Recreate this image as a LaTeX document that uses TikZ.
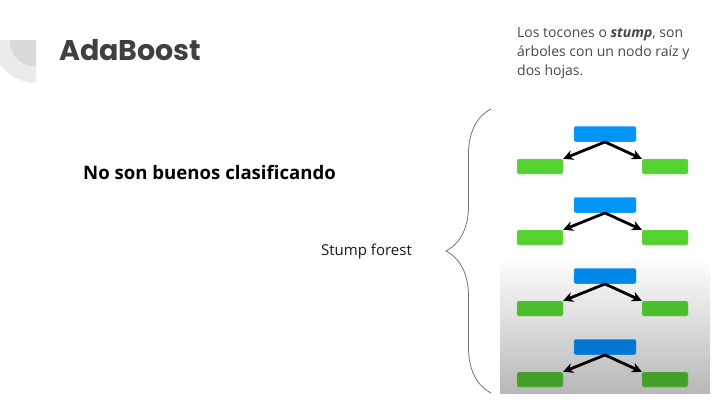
\documentclass[tikz,border=0pt]{standalone}
\usepackage{fontspec}
\setmainfont{Open Sans}
\newfontfamily\titlefont{Poppins}
\usetikzlibrary{arrows.meta, positioning, decorations.pathreplacing}

\definecolor{rootblue}{HTML}{0095FA}
\definecolor{rootblueB}{HTML}{0088E8}
\definecolor{rootblueC}{HTML}{0078D2}
\definecolor{leafgreen}{HTML}{55D132}
\definecolor{leafgreenB}{HTML}{4CBE2E}
\definecolor{leafgreenC}{HTML}{42A02A}

\begin{document}
\begin{tikzpicture}[
    x=1pt, y=-1pt,
    >={Stealth[length=10pt, width=10pt]},
    on grid,
    root/.style={rectangle, rounded corners=1.5pt, fill=#1, draw=#1!70!white, line width=0.4pt,
                 minimum width=62pt, minimum height=15.5pt, inner sep=0pt},
    leaf/.style={rectangle, rounded corners=1.5pt, fill=#1, draw=#1!70!white, line width=0.4pt,
                 minimum width=46pt, minimum height=15pt, inner sep=0pt},
    link/.style={->, line width=2.8pt, black},
]

    \useasboundingbox (0,0) rectangle (728,405);

    % corner mark
    \fill[black!8]  (36,40) -- (36,83) arc[start angle=90, end angle=180, radius=43] -- cycle;
    \fill[black!15] (36,40) -- (36,66.5) arc[start angle=90, end angle=180, radius=26.5] -- cycle;

    \node[anchor=base west, inner sep=0pt, text=black!75, font=\titlefont\bfseries\fontsize{28.5}{32}\selectfont] (T) at (59,60) {AdaBoost};

    \node[anchor=north west, inner sep=0pt, align=left, text=black!72, font=\fontsize{14}{19}\selectfont] (N) at (517,27)
        {Los tocones o \textbf{\textit{stump}}, son\\árboles con un nodo raíz y\\dos hojas.};

    \node[anchor=west, inner sep=0pt, font=\bfseries\fontsize{18.6}{22}\selectfont] (C) at (83,172) {No son buenos clasificando};

    \node[anchor=west, inner sep=0pt, text=black!90, font=\fontsize{15}{18}\selectfont] (F) at (321,252) {Stump forest};

    \draw[black!55, line width=0.8pt, decorate, decoration={brace, amplitude=45pt, aspect=0.5}] (491,393) -- (491,109);

    \shade[top color=white, bottom color=black!28] (500,257) rectangle (710,393);

    \node[root=rootblue]  (R1) at (605,134) {};
    \node[root=rootblue]  (R2) at (605,205) {};
    \node[root=rootblueB] (R3) at (605,276) {};
    \node[root=rootblueC] (R4) at (605,347) {};

    \node[leaf=leafgreen,  below left =32.5pt and 65pt of R1] (L1) {};
    \node[leaf=leafgreen,  below right=32.5pt and 60pt of R1] (D1) {};
    \node[leaf=leafgreen,  below left =32.5pt and 65pt of R2] (L2) {};
    \node[leaf=leafgreen,  below right=32.5pt and 60pt of R2] (D2) {};
    \node[leaf=leafgreenB, below left =32.5pt and 65pt of R3] (L3) {};
    \node[leaf=leafgreenB, below right=32.5pt and 60pt of R3] (D3) {};
    \node[leaf=leafgreenC, below left =32.5pt and 65pt of R4] (L4) {};
    \node[leaf=leafgreenC, below right=32.5pt and 60pt of R4] (D4) {};

    \path[link]
        (R1.south) edge (L1.north east)
        (R1.south) edge (D1.north west)
        (R2.south) edge (L2.north east)
        (R2.south) edge (D2.north west)
        (R3.south) edge (L3.north east)
        (R3.south) edge (D3.north west)
        (R4.south) edge (L4.north east)
        (R4.south) edge (D4.north west)
    ;
\end{tikzpicture}
\end{document}
